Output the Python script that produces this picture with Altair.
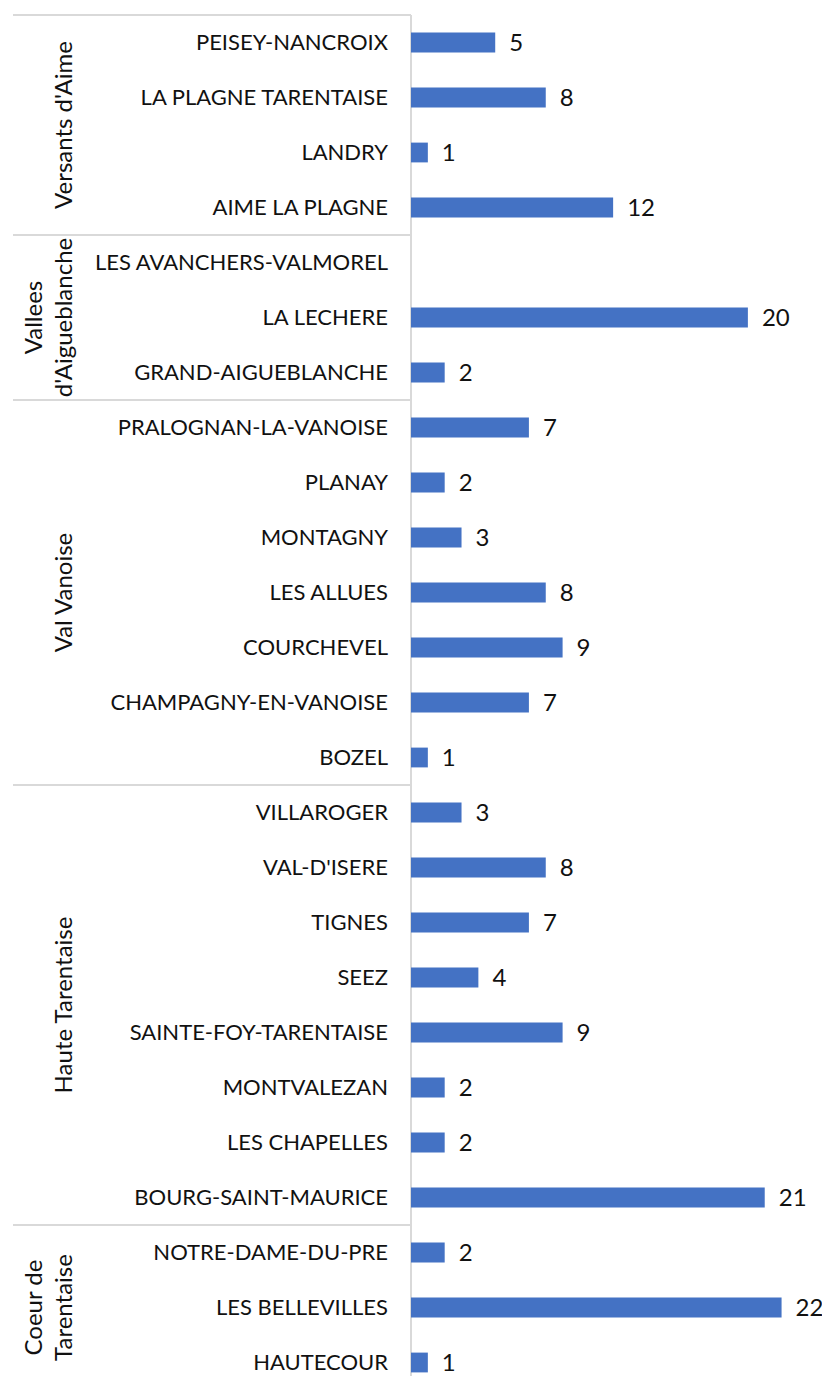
import altair as alt
import pandas as pd

# ---- data (top to bottom) ----
groups = ["Versants d'Aime", "Vallees\nd'Aigueblanche", "Val Vanoise", "Haute Tarentaise", "Coeur de\nTarentaise"]
group_sizes = [4, 3, 7, 8, 3]
communes = [
    "PEISEY-NANCROIX", "LA PLAGNE TARENTAISE", "LANDRY", "AIME LA PLAGNE",
    "LES AVANCHERS-VALMOREL", "LA LECHERE", "GRAND-AIGUEBLANCHE",
    "PRALOGNAN-LA-VANOISE", "PLANAY", "MONTAGNY", "LES ALLUES", "COURCHEVEL",
    "CHAMPAGNY-EN-VANOISE", "BOZEL",
    "VILLAROGER", "VAL-D'ISERE", "TIGNES", "SEEZ", "SAINTE-FOY-TARENTAISE",
    "MONTVALEZAN", "LES CHAPELLES", "BOURG-SAINT-MAURICE",
    "NOTRE-DAME-DU-PRE", "LES BELLEVILLES", "HAUTECOUR",
]
values = [5, 8, 1, 12,
          None, 20, 2,
          7, 2, 3, 8, 9, 7, 1,
          3, 8, 7, 4, 9, 2, 2, 21,
          2, 22, 1]

FONT = "Lato"
BLUE = "#4472C4"
GRID = "#d9d9d9"

rows = pd.DataFrame({
    "commune": communes,
    "value": values,
    "pos": list(range(len(communes))),
})

# group table
starts, s = [], 0
for n in group_sizes:
    starts.append(s)
    s += n
grp = pd.DataFrame({
    "group": groups,
    "start": starts,
    "size": group_sizes,
})
grp["center"] = grp["start"] + (grp["size"] - 1) / 2
grp["boundary"] = grp["start"] - 0.5

Y_DOMAIN = [-0.5, 24.5]
X_DOMAIN = [0, 24.4]

yq = lambda f: alt.Y(f, type="quantitative", scale=alt.Scale(domain=Y_DOMAIN, reverse=True, nice=False, zero=False), axis=None)
xq = lambda f: alt.X(f, type="quantitative", scale=alt.Scale(domain=X_DOMAIN, nice=False), axis=None)

base = alt.Chart(rows)

bars = base.transform_filter("datum.value != null").transform_calculate(
    y0="datum.pos - 0.18", y1="datum.pos + 0.18", x0="0"
).mark_rect(color=BLUE).encode(
    x=xq("x0:Q"), x2="value:Q", y=yq("y0:Q"), y2="y1:Q"
)

vlabels = base.transform_filter("datum.value != null").mark_text(
    align="left", baseline="middle", dx=14, dy=1, font=FONT, fontSize=24, color="#111"
).encode(x=xq("value:Q"), y=yq("pos:Q"), text="value:Q")

clabels = base.mark_text(
    align="right", baseline="middle", font=FONT, fontSize=22, color="#111"
).encode(x=alt.value(-23), y=yq("pos:Q"), text="commune:N")

seps = alt.Chart(grp).mark_rule(color=GRID, strokeWidth=2).encode(
    x=alt.value(-398), x2=alt.value(0), y=yq("boundary:Q")
)

axis_line = alt.Chart(pd.DataFrame({"a": [Y_DOMAIN[0]], "b": [Y_DOMAIN[1]]})).mark_rule(
    color=GRID, strokeWidth=2
).encode(x=alt.value(0), y=yq("a:Q"), y2="b:Q")

glines = alt.Chart(grp).transform_calculate(
    lines="split(datum.group, '\\n')"
).transform_flatten(["lines"], as_=["line"]).transform_window(
    idx="row_number()", groupby=["group"]
).transform_joinaggregate(
    n="count()", groupby=["group"]
).transform_calculate(k="datum.n - datum.idx")

gtext = dict(angle=270, align="center", baseline="alphabetic", font=FONT, fontSize=24, color="#111")
glabel_last = glines.transform_filter("datum.k == 0").mark_text(**gtext).encode(
    x=alt.value(-339), y=yq("center:Q"), text="line:N")
glabel_prev = glines.transform_filter("datum.k == 1").mark_text(**gtext).encode(
    x=alt.value(-369), y=yq("center:Q"), text="line:N")

chart = alt.layer(seps, axis_line, bars, vlabels, clabels, glabel_last, glabel_prev).properties(
    width=411, height=1375,
    padding={"left": 403, "top": 7, "right": 0, "bottom": 0},
    autosize=alt.AutoSizeParams(type="none"),
).configure_view(stroke=None)

chart.save("out.html", embed_options={"renderer": "svg", "actions": False})
